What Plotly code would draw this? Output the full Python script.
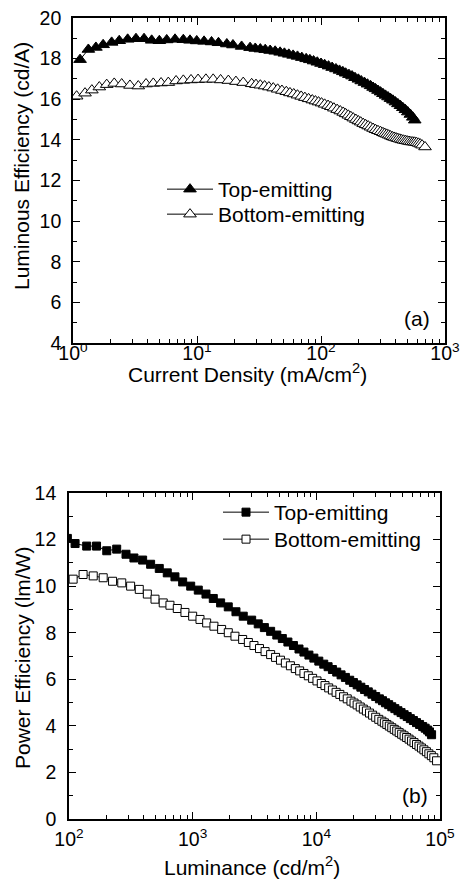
import plotly.graph_objects as go

# ---------------- Panel (a): Luminous efficiency vs current density ----------------
j_top = [1.14, 1.33, 1.53, 1.75, 2.05, 2.36, 2.76, 3.22, 3.74, 4.31, 4.97, 5.70, 6.65, 7.76, 8.78,
         9.95, 11.4, 13.1, 14.9, 17.4, 19.5, 22.9, 26.8,
         29.5, 32.4, 35.5, 38.9, 42.7, 46.8, 50.7, 55.0, 59.6, 64.6, 70.0, 75.9, 81.3, 87.1, 93.3,
         100, 107, 115, 123, 132, 141, 150, 158, 168, 178, 188, 200, 211, 224, 237, 251, 263, 275,
         288, 302, 316, 331, 347, 363, 380, 398, 417, 437, 457, 479, 501, 525, 550, 570]
le_top = [17.95, 18.45, 18.55, 18.68, 18.8, 18.88, 18.95, 18.98, 18.98, 18.9, 18.88, 18.92, 18.95,
          18.93, 18.9, 18.87, 18.85, 18.82, 18.78, 18.72, 18.67, 18.6, 18.54,
          18.5, 18.47, 18.44, 18.4, 18.36, 18.31, 18.26, 18.21, 18.16, 18.11, 18.05, 17.99, 17.94,
          17.88, 17.82, 17.76, 17.7, 17.63, 17.56, 17.49, 17.42, 17.35, 17.28, 17.21, 17.14, 17.06,
          16.98, 16.9, 16.82, 16.74, 16.66, 16.58, 16.51, 16.43, 16.35, 16.27, 16.19, 16.11, 16.03,
          15.95, 15.86, 15.77, 15.68, 15.58, 15.48, 15.37, 15.25, 15.11, 14.97]

j_bot = [1.07, 1.25, 1.42, 1.63, 1.87, 2.15, 2.47, 2.88, 3.36, 3.88, 4.44, 5.13, 5.87, 6.78, 7.76,
         8.95, 10.2, 11.8, 13.5, 15.5, 17.9, 20.6, 23.6, 27.6,
         29.9, 32.4, 35.1, 38.0, 41.2, 44.7, 48.4, 52.5, 56.2, 60.3, 64.6, 69.2, 74.1, 79.4, 85.1,
         90.2, 95.5, 101, 107, 114, 120, 127, 135, 143, 151, 158, 166, 174, 182, 191, 200, 209,
         219, 229, 240, 251, 263, 275, 288, 302, 316, 327, 339, 351, 363, 376, 389, 403, 417, 432,
         447, 462, 479, 495, 513, 531, 550, 569, 589, 610, 631, 653, 690]
le_bot = [16.15, 16.3, 16.45, 16.6, 16.72, 16.78, 16.75, 16.68, 16.65, 16.75, 16.78, 16.8, 16.82,
          16.9, 16.93, 16.95, 16.97, 16.98, 16.98, 16.95, 16.92, 16.87, 16.82, 16.76,
          16.72, 16.69, 16.65, 16.6, 16.55, 16.49, 16.43, 16.37, 16.31, 16.26, 16.2, 16.14, 16.08,
          16.02, 15.96, 15.91, 15.86, 15.81, 15.75, 15.69, 15.63, 15.56, 15.49, 15.42, 15.35, 15.28,
          15.21, 15.14, 15.07, 15.0, 14.93, 14.87, 14.8, 14.74, 14.68, 14.62, 14.56, 14.5, 14.45,
          14.4, 14.35, 14.31, 14.27, 14.23, 14.19, 14.15, 14.12, 14.09, 14.06, 14.03, 14.0, 13.98,
          13.96, 13.94, 13.92, 13.9, 13.89, 13.88, 13.86, 13.83, 13.79, 13.74, 13.65]

# ---------------- Panel (b): Power efficiency vs luminance ----------------
l_top = [97, 112, 139, 167, 202, 243, 289, 335, 394, 457, 537, 623, 719, 830, 964, 1110, 1281,
         1468, 1683, 1940, 2239, 2564, 3000,
         3390, 3800, 4270, 4790, 5310, 5890, 6530, 7240, 7940, 8710, 9550, 10470, 11480, 12450,
         13490, 14620, 15850, 17180, 18620, 19950, 21380, 22910, 24550, 26300, 28180, 30200,
         32360, 34280, 36310, 38460, 40740, 43150, 45710, 48420, 51290, 54330, 57540, 60950,
         64570, 68390, 72440, 75860, 79430, 82220, 85500]
pe_top = [12.05, 11.83, 11.72, 11.72, 11.52, 11.59, 11.37, 11.21, 11.12, 10.94, 10.76, 10.57, 10.4,
          10.18, 10.0, 9.83, 9.66, 9.47, 9.28, 9.11, 8.90, 8.71, 8.54,
          8.38, 8.22, 8.06, 7.9, 7.75, 7.6, 7.45, 7.3, 7.17, 7.04, 6.91, 6.78, 6.65, 6.54, 6.42,
          6.31, 6.19, 6.08, 5.96, 5.86, 5.76, 5.66, 5.56, 5.46, 5.36, 5.26, 5.16, 5.08, 4.99, 4.91,
          4.82, 4.74, 4.65, 4.57, 4.48, 4.4, 4.31, 4.23, 4.14, 4.06, 3.97, 3.9, 3.82, 3.74, 3.62]

l_bot = [108, 130, 157, 189, 225, 267, 315, 370, 430, 496, 578, 655, 751, 866, 1000, 1146, 1298,
         1486, 1715, 1941, 2198, 2536,
         2820, 3130, 3470, 3850, 4270, 4680, 5130, 5620, 6170, 6760, 7330, 7940, 8610, 9330,
         10120, 10970, 11750, 12590, 13490, 14450, 15490, 16600, 17780, 19060, 20180, 21380,
         22650, 23990, 25410, 26920, 28510, 30200, 31990, 33880, 35480, 37150, 38910, 40740,
         42660, 44670, 46770, 48980, 51290, 53700, 56230, 58880, 61660, 64570, 67610, 70800,
         74130, 77630, 81280, 85110, 89130, 93800]
pe_bot = [10.3, 10.5, 10.44, 10.36, 10.21, 10.14, 10.0, 9.86, 9.66, 9.44, 9.28, 9.18, 9.04, 8.87,
          8.71, 8.57, 8.42, 8.28, 8.14, 8.0, 7.85, 7.71,
          7.58, 7.45, 7.32, 7.19, 7.06, 6.94, 6.82, 6.7, 6.58, 6.46, 6.36, 6.25, 6.15, 6.04, 5.93,
          5.82, 5.73, 5.63, 5.54, 5.44, 5.35, 5.25, 5.16, 5.06, 4.98, 4.9, 4.81, 4.72, 4.64, 4.55,
          4.46, 4.37, 4.28, 4.2, 4.13, 4.06, 3.99, 3.92, 3.85, 3.78, 3.71, 3.64, 3.57, 3.5, 3.43,
          3.35, 3.28, 3.2, 3.13, 3.05, 2.97, 2.89, 2.8, 2.72, 2.63, 2.5]

series_names = ["Top-emitting", "Bottom-emitting"]
x_ticks_a = [1, 10, 100, 1000]
x_ticktext_a = ["10<sup>0</sup>", "10<sup>1</sup>", "10<sup>2</sup>", "10<sup>3</sup>"]
x_ticks_b = [100, 1000, 10000, 100000]
x_ticktext_b = ["10<sup>2</sup>", "10<sup>3</sup>", "10<sup>4</sup>", "10<sup>5</sup>"]

FONT = "Liberation Sans, Arial, sans-serif"
W, H = 460, 879
TXT = 21
TICK = 19.5

fig = go.Figure()

def add(x, y, name, symbol, size, fill, xa, ya, legend):
    fig.add_trace(go.Scatter(
        x=x, y=y, name=name, mode="lines+markers", xaxis=xa, yaxis=ya, legend=legend,
        line=dict(color="black", width=1),
        marker=dict(symbol=symbol, size=size, color=fill, line=dict(color="black", width=1)),
    ))

add(j_top, le_top, series_names[0], "triangle-up", 11, "black", "x", "y", "legend")
add(j_bot, le_bot, series_names[1], "triangle-up", 11, "white", "x", "y", "legend2")
add(l_top, pe_top, series_names[0], "square", 8, "black", "x2", "y2", "legend3")
add(l_bot, pe_bot, series_names[1], "square", 8, "white", "x2", "y2", "legend4")

def xaxis(domain, rng, tv, tt, anchor, standoff):
    return dict(
        type="log", range=rng, domain=domain, anchor=anchor, automargin=False,
        tickmode="array", tickvals=tv, ticktext=tt,
        ticks="inside", ticklen=7, tickwidth=1.3, tickcolor="black",
        minor=dict(ticks="inside", ticklen=4, tickwidth=1.1, tickcolor="black", dtick="D1"),
        showline=True, linecolor="black", linewidth=1.6, mirror="ticks",
        showgrid=False, zeroline=False,
        tickfont=dict(family=FONT, size=TICK, color="black"),
        ticklabelstandoff=standoff,
    )

def yaxis(domain, rng, anchor, standoff):
    return dict(
        range=rng, domain=domain, anchor=anchor, dtick=2, tick0=0, automargin=False,
        ticks="inside", ticklen=7, tickwidth=1.3, tickcolor="black",
        minor=dict(ticks="inside", ticklen=4, tickwidth=1.1, tickcolor="black", dtick=1),
        showline=True, linecolor="black", linewidth=1.6, mirror="ticks",
        showgrid=False, zeroline=False,
        tickfont=dict(family=FONT, size=TICK, color="black"),
        ticklabelstandoff=standoff,
    )

def legend_at(x_px, row_px):
    return dict(x=x_px / W, y=1 - (row_px - 21) / H, xanchor="left", yanchor="top",
                bgcolor="rgba(0,0,0,0)", borderwidth=0,
                font=dict(family=FONT, size=TXT, color="black"), itemwidth=46)

def note(text, x_px, y_px, angle=0, xanchor="center"):
    return dict(text=text, x=x_px / W, y=1 - y_px / H, xref="paper", yref="paper",
                xanchor=xanchor, yanchor="middle", showarrow=False, textangle=angle,
                font=dict(family=FONT, size=TXT, color="black"))

fig.update_layout(
    template="none",
    width=W, height=H, autosize=False,
    margin=dict(l=0, r=0, t=0, b=0, pad=0),
    paper_bgcolor="white", plot_bgcolor="white",
    font=dict(family=FONT, size=TXT, color="black"),
    xaxis=xaxis([73 / W, 445 / W], [0, 3], x_ticks_a, x_ticktext_a, "y", -8),
    yaxis=yaxis([1 - 343 / H, 1 - 18 / H], [4, 20], "x", 6),
    xaxis2=xaxis([69 / W, 440 / W], [2, 5], x_ticks_b, x_ticktext_b, "y2", 2),
    yaxis2=yaxis([1 - 819 / H, 1 - 493 / H], [0, 14], "x2", 7),
    legend=legend_at(162, 190),
    legend2=legend_at(162, 215),
    legend3=legend_at(218, 513),
    legend4=legend_at(218, 540),
    showlegend=True,
    annotations=[
        note("Luminous Efficiency (cd/A)", 22, 166, angle=-90),
        note("Current Density (mA/cm<sup>2</sup>)", 247, 373),
        note("Power Efficiency (lm/W)", 22, 658, angle=-90),
        note("Luminance (cd/m<sup>2</sup>)", 252, 866),
        note("(a)", 432, 318, xanchor="right"),
        note("(b)", 430, 795, xanchor="right"),
    ],
)

fig.write_html("out.html", config={"displayModeBar": False},
               post_script="document.body.style.margin='0';")
